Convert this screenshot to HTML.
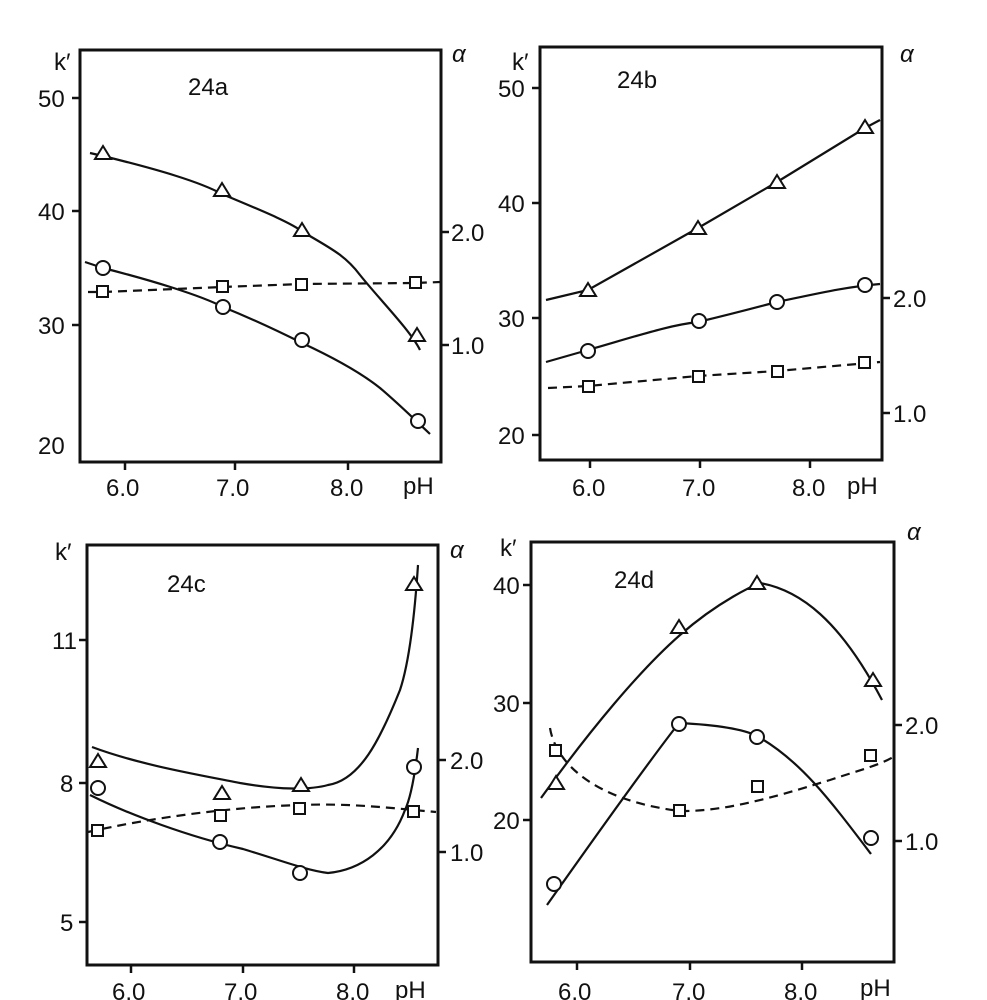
<!DOCTYPE html>
<html><head><meta charset="utf-8"><style>
body{margin:0;background:#fff}
svg{display:block}
text{font-family:"Liberation Sans",sans-serif;font-size:24px;fill:#111}
.ax{fill:none;stroke:#111;stroke-width:3}
.c{fill:none;stroke:#111;stroke-width:2.2}
.d{fill:none;stroke:#111;stroke-width:2.2;stroke-dasharray:9,6}
.m{fill:#fff;stroke:#111;stroke-width:2}
</style></head><body>
<svg width="987" height="1000" viewBox="0 0 987 1000">
<!-- Panel a -->
<rect class="ax" x="80" y="50" width="361" height="412"/>
<g stroke="#111" stroke-width="2.5">
<line x1="72" y1="98" x2="80" y2="98"/><line x1="72" y1="211" x2="80" y2="211"/><line x1="72" y1="325" x2="80" y2="325"/>
<line x1="441" y1="232" x2="449" y2="232"/><line x1="441" y1="345" x2="449" y2="345"/>
<line x1="125" y1="462" x2="125" y2="470"/><line x1="235" y1="462" x2="235" y2="470"/><line x1="348" y1="462" x2="348" y2="470"/>
</g>
<text x="54" y="70">k′</text><text x="452" y="62" font-style="italic">α</text>
<text x="38" y="107">50</text><text x="38" y="220">40</text><text x="38" y="334">30</text><text x="38" y="454">20</text>
<text x="451" y="241">2.0</text><text x="451" y="354">1.0</text>
<text x="188" y="95">24a</text>
<text x="106" y="496">6.0</text><text x="216" y="496">7.0</text><text x="330" y="496">8.0</text><text x="403" y="494">pH</text>
<path class="c" d="M90,153 L103,156 C160,170 200,182 222,194 C260,210 290,222 303,232 C330,248 345,255 360,275 C380,300 410,330 420,350"/>
<path class="c" d="M85,262 L103,268 C150,280 200,295 223,307 C260,322 290,337 302,343 C330,356 360,372 380,388 C400,405 415,420 430,434"/>
<path class="d" d="M88,292 L103,292 L222,287 L302,284 L415,283 L440,282"/>
<g class="m"><path d="M103,146 L111,159 L95,159Z"/><path d="M222,183 L230,196 L214,196Z"/><path d="M302,223 L310,236 L294,236Z"/><path d="M417,328 L425,341 L409,341Z"/>
<circle cx="103" cy="268" r="7"/><circle cx="223" cy="307" r="7"/><circle cx="302" cy="340" r="7"/><circle cx="418" cy="421" r="7"/>
<rect x="97" y="286" width="11" height="11"/><rect x="217" y="281" width="11" height="11"/><rect x="296" y="279" width="11" height="11"/><rect x="410" y="277" width="11" height="11"/></g>

<!-- Panel b -->
<rect class="ax" x="540" y="47" width="342" height="413"/>
<g stroke="#111" stroke-width="2.5">
<line x1="532" y1="88" x2="540" y2="88"/><line x1="532" y1="203" x2="540" y2="203"/><line x1="532" y1="318" x2="540" y2="318"/><line x1="532" y1="435" x2="540" y2="435"/>
<line x1="882" y1="298" x2="890" y2="298"/><line x1="882" y1="413" x2="890" y2="413"/>
<line x1="590" y1="460" x2="590" y2="468"/><line x1="700" y1="460" x2="700" y2="468"/><line x1="810" y1="460" x2="810" y2="468"/>
</g>
<text x="512" y="70">k′</text><text x="900" y="62" font-style="italic">α</text>
<text x="498" y="97">50</text><text x="498" y="212">40</text><text x="498" y="327">30</text><text x="498" y="444">20</text>
<text x="893" y="307">2.0</text><text x="893" y="422">1.0</text>
<text x="617" y="88">24b</text>
<text x="572" y="496">6.0</text><text x="682" y="496">7.0</text><text x="792" y="496">8.0</text><text x="847" y="494">pH</text>
<path class="c" d="M546,300 L588,290 L698,228 L777,182 L865,128 L880,120"/>
<path class="c" d="M546,362 L588,350 C640,335 670,325 698,322 C740,312 765,305 777,302 C820,293 845,287 880,284"/>
<path class="d" d="M548,388 L588,386 L698,376 L777,371 L880,362"/>
<g class="m"><path d="M588,283 L596,296 L580,296Z"/><path d="M698,221 L706,234 L690,234Z"/><path d="M777,175 L785,188 L769,188Z"/><path d="M865,120 L873,133 L857,133Z"/>
<circle cx="588" cy="351" r="7"/><circle cx="699" cy="321" r="7"/><circle cx="777" cy="302" r="7"/><circle cx="865" cy="285" r="7"/>
<rect x="583" y="381" width="11" height="11"/><rect x="693" y="371" width="11" height="11"/><rect x="772" y="366" width="11" height="11"/><rect x="859" y="357" width="11" height="11"/></g>

<!-- Panel c -->
<rect class="ax" x="87" y="545" width="351" height="420"/>
<g stroke="#111" stroke-width="2.5">
<line x1="79" y1="640" x2="87" y2="640"/><line x1="79" y1="783" x2="87" y2="783"/><line x1="79" y1="922" x2="87" y2="922"/>
<line x1="438" y1="760" x2="446" y2="760"/><line x1="438" y1="852" x2="446" y2="852"/>
<line x1="131" y1="965" x2="131" y2="973"/><line x1="243" y1="965" x2="243" y2="973"/><line x1="354" y1="965" x2="354" y2="973"/>
</g>
<text x="55" y="560">k′</text><text x="450" y="558" font-style="italic">α</text>
<text x="52" y="649">11</text><text x="60" y="792">8</text><text x="60" y="931">5</text>
<text x="450" y="769">2.0</text><text x="450" y="861">1.0</text>
<text x="167" y="592">24c</text>
<text x="112" y="1000">6.0</text><text x="224" y="1000">7.0</text><text x="336" y="1000">8.0</text><text x="395" y="998">pH</text>
<path class="c" d="M92,747 C140,765 200,775 240,783 C280,790 310,790 328,785 C360,780 380,740 400,690 C410,660 415,610 418,565"/>
<path class="c" d="M90,795 C130,815 190,837 243,849 C280,860 305,870 328,873 C360,870 390,850 405,810 C412,795 416,765 418,748"/>
<path class="d" d="M88,832 C150,818 230,807 300,805 C350,803 390,808 436,812"/>
<g class="m"><path d="M98,754 L106,767 L90,767Z"/><path d="M222,786 L230,799 L214,799Z"/><path d="M301,778 L309,791 L293,791Z"/><path d="M414,577 L422,590 L406,590Z"/>
<circle cx="98" cy="788" r="7"/><circle cx="220" cy="842" r="7"/><circle cx="300" cy="873" r="7"/><circle cx="414" cy="767" r="7"/>
<rect x="92" y="825" width="11" height="11"/><rect x="215" y="810" width="11" height="11"/><rect x="294" y="803" width="11" height="11"/><rect x="408" y="806" width="11" height="11"/></g>

<!-- Panel d -->
<rect class="ax" x="531" y="542" width="363" height="420"/>
<g stroke="#111" stroke-width="2.5">
<line x1="523" y1="585" x2="531" y2="585"/><line x1="523" y1="703" x2="531" y2="703"/><line x1="523" y1="820" x2="531" y2="820"/>
<line x1="894" y1="725" x2="902" y2="725"/><line x1="894" y1="841" x2="902" y2="841"/>
<line x1="577" y1="962" x2="577" y2="970"/><line x1="690" y1="962" x2="690" y2="970"/><line x1="802" y1="962" x2="802" y2="970"/>
</g>
<text x="500" y="556">k′</text><text x="907" y="540" font-style="italic">α</text>
<text x="493" y="594">40</text><text x="493" y="712">30</text><text x="493" y="829">20</text>
<text x="905" y="734">2.0</text><text x="905" y="850">1.0</text>
<text x="614" y="588">24d</text>
<text x="558" y="1000">6.0</text><text x="672" y="1000">7.0</text><text x="784" y="1000">8.0</text><text x="860" y="996">pH</text>
<path class="c" d="M541,798 C590,730 640,670 680,635 C720,600 755,585 760,583 C800,590 840,620 882,700"/>
<path class="c" d="M547,905 C600,830 650,760 679,723 C720,725 745,730 757,736 C800,760 830,800 871,854"/>
<path class="d" d="M550,728 C555,760 590,800 680,811 C730,812 790,792 830,780 C860,770 880,765 893,757"/>
<g class="m"><path d="M556,776 L564,789 L548,789Z"/><path d="M679,620 L687,633 L671,633Z"/><path d="M757,576 L765,589 L749,589Z"/><path d="M873,673 L881,686 L865,686Z"/>
<circle cx="554" cy="884" r="7"/><circle cx="679" cy="724" r="7"/><circle cx="757" cy="737" r="7"/><circle cx="871" cy="838" r="7"/>
<rect x="550" y="745" width="11" height="11"/><rect x="674" y="805" width="11" height="11"/><rect x="752" y="781" width="11" height="11"/><rect x="865" y="750" width="11" height="11"/></g>
</svg>
</body></html>
